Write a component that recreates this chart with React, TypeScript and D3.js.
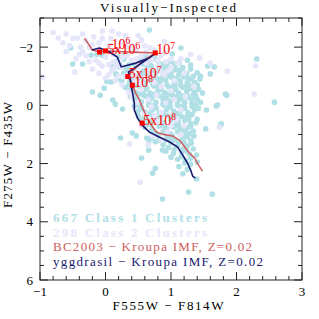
import React from 'react';
import * as d3 from 'd3';

// F555W - F814W (x) vs F275W - F435W (y)
const class1: [number, number][] = [
  // scattered
  [0.67, -2.59], [1.15, -1.97], [1.02, -1.76], [1.56, -1.35], [1.66, -1.32], [1.45, -1.01], [1.6, -1.08],
  [2.31, -1.59], [1.83, -0.39], [2.58, -0.11], [1.77, 0.64], [-0.53, -1.97], [-0.5, -1.42], [-0.35, -1.42],
  [-0.22, -1.72], [-0.13, -1.75], [-0.02, -0.59], [-0.2, -0.46], [-0.08, -0.35], [0.11, -0.18], [0.15, -0.04],
  [0.26, 0.13], [0.23, 1.12], [0.41, 0.95], [0.47, 1.05], [0.63, 1.12], [0.66, 1.26], [0.55, 1.81],
  [0.66, 1.54], [1.54, 0.16], [1.71, -0.01], [1.53, 0.81], [1.76, 0.64], [1.85, -0.35], [0.87, 1.54],
  [0.76, 2.16], [1.21, 1.98], [1.31, 1.3], [1.39, 1.71], [0.87, 3.22], [1.27, 2.98], [1.63, 3.05],
  [1.39, 2.53], [0.72, 2.33], [1.69, 0.02], [0.02, -0.82], [0.09, -0.8], [0.17, -1.05],
  // core
  [-0.05, -1.72], [0.1, -1.85], [0.3, -1.78], [0.45, -1.9], [0.62, -1.7], [0.2, -1.66],
  [0.15, -1.5], [0.28, -1.58], [0.4, -1.45], [0.52, -1.55], [0.64, -1.48], [0.76, -1.6], [0.88, -1.42],
  [1.0, -1.52], [0.35, -1.38], [0.7, -1.36], [1.12, -1.45], [1.25, -1.55],
  [0.3, -1.68], [0.55, -1.62], [0.8, -1.52], [1.05, -1.42], [0.28, -1.3], [0.64, -1.3], [0.88, -1.26],
  [1.12, -1.2], [1.3, -1.38],
  [0.22, -1.4], [0.46, -1.36], [0.58, -1.42], [0.82, -1.32], [0.94, -1.38], [1.06, -1.34], [1.18, -1.3], [0.1, -1.38],
  [0.1, -1.2], [0.22, -1.3], [0.34, -1.22], [0.46, -1.28], [0.58, -1.18], [0.7, -1.26], [0.82, -1.2],
  [0.94, -1.3], [1.06, -1.22], [1.18, -1.15], [0.28, -1.1], [0.52, -1.08], [0.76, -1.1], [1.0, -1.08],
  [1.3, -1.25], [1.4, -1.12], [0.88, -1.02], [0.64, -1.04],
  [0.16, -1.08], [0.4, -1.12], [0.7, -1.14], [0.94, -1.12], [1.12, -1.05], [1.24, -1.08], [1.34, -1.0], [0.58, -1.0],
  [0.34, -0.98], [0.58, -0.92], [0.8, -0.9], [1.02, -0.96], [1.26, -0.92], [1.4, -0.7],
  [0.2, -0.92], [0.31, -1.0], [0.42, -0.9], [0.53, -0.98], [0.64, -0.88], [0.75, -0.96], [0.86, -0.9],
  [0.97, -1.0], [1.08, -0.92], [1.2, -0.98], [1.32, -0.9], [0.37, -0.8], [0.6, -0.78], [0.83, -0.8],
  [1.05, -0.78], [1.25, -0.8], [0.72, -0.72], [0.94, -0.7], [1.15, -0.68], [0.48, -0.7],
  [0.25, -0.82], [0.48, -0.85], [0.7, -0.84], [0.92, -0.86], [1.14, -0.84], [1.36, -0.78], [1.44, -0.9],
  [0.36, -0.72], [0.58, -0.68], [0.8, -0.66], [1.02, -0.62], [1.24, -0.68],
  [0.4, -0.66], [0.62, -0.62], [0.84, -0.64], [1.06, -0.7], [1.3, -0.66], [1.48, -0.42],
  [0.3, -0.62], [0.41, -0.55], [0.52, -0.65], [0.63, -0.58], [0.74, -0.66], [0.85, -0.56], [0.96, -0.64],
  [1.07, -0.55], [1.18, -0.62], [1.3, -0.57], [0.46, -0.45], [0.68, -0.42], [0.9, -0.44], [1.12, -0.42],
  [1.36, -0.45], [0.57, -0.36], [0.79, -0.34], [1.01, -0.36], [1.24, -0.38],
  [0.36, -0.52], [0.58, -0.48], [0.8, -0.5], [1.02, -0.46], [1.24, -0.5], [1.42, -0.55], [0.5, -0.4],
  [0.74, -0.38], [0.96, -0.4], [1.18, -0.32], [1.38, -0.32],
  [0.44, -0.36], [0.66, -0.3], [0.88, -0.28], [1.1, -0.3], [1.34, -0.36], [1.45, -0.1],
  [0.38, -0.3], [0.49, -0.22], [0.6, -0.32], [0.71, -0.25], [0.82, -0.33], [0.93, -0.24], [1.04, -0.3],
  [1.15, -0.22], [1.26, -0.28], [1.4, -0.2], [0.55, -0.12], [0.77, -0.1], [0.99, -0.14], [1.21, -0.1],
  [0.66, -0.05], [0.88, -0.06], [1.1, -0.04], [1.32, -0.08],
  [0.44, -0.18], [0.66, -0.16], [0.88, -0.18], [1.1, -0.16], [1.32, -0.18], [0.5, -0.02], [0.72, 0.04],
  [0.94, 0.02], [1.16, 0.06], [1.38, -0.02],
  [0.54, 0.04], [0.76, -0.06], [0.98, -0.04], [1.2, -0.02], [1.42, 0.1],
  [0.44, 0.02], [0.55, 0.1], [0.66, 0.0], [0.77, 0.08], [0.88, -0.02], [0.99, 0.06], [1.1, 0.0],
  [1.21, 0.1], [1.32, 0.04], [0.6, 0.22], [0.82, 0.24], [1.04, 0.2], [1.26, 0.25], [0.71, 0.16],
  [0.93, 0.15], [1.15, 0.18], [1.36, 0.16],
  [0.5, 0.2], [0.66, 0.3], [0.88, 0.3], [1.1, 0.3], [1.32, 0.32], [0.56, 0.5], [0.78, 0.46], [1.0, 0.4],
  [1.22, 0.42], [1.4, 0.48],
  [0.6, 0.36], [0.84, 0.34], [1.06, 0.26], [1.26, 0.36], [1.38, 0.6],
  [0.5, 0.38], [0.61, 0.45], [0.72, 0.36], [0.83, 0.44], [0.94, 0.35], [1.05, 0.43], [1.16, 0.38],
  [1.27, 0.46], [0.67, 0.56], [0.89, 0.6], [1.11, 0.56], [1.3, 0.62], [0.78, 0.52], [1.0, 0.5], [1.21, 0.52],
  [0.64, 0.64], [0.86, 0.66], [1.08, 0.66], [1.3, 0.72], [0.7, 0.9], [0.92, 0.96], [1.14, 1.0], [1.28, 0.98],
  [0.7, 0.66], [0.9, 0.72], [1.12, 0.72], [1.22, 0.86],
  [0.6, 0.75], [0.71, 0.82], [0.82, 0.72], [0.93, 0.8], [1.04, 0.74], [1.15, 0.83], [1.26, 0.76],
  [0.77, 0.95], [0.99, 0.98], [1.2, 0.96], [0.88, 0.9], [1.1, 0.9], [1.34, 0.88],
  [0.8, 1.04], [1.02, 1.05], [1.24, 1.08], [0.9, 1.22], [1.12, 1.26],
  [0.7, 1.12], [0.82, 1.2], [0.94, 1.1], [1.06, 1.18], [1.18, 1.12], [1.3, 1.2], [0.88, 1.35],
  [1.1, 1.38], [1.25, 1.4], [1.0, 1.28], [1.35, 1.05],
  [0.76, 1.25], [0.98, 1.18], [1.2, 1.28], [0.96, 1.45], [1.18, 1.5], [1.34, 1.5], [1.0, 1.78], [1.3, 1.82],
  [1.4, 1.95], [1.05, 1.52], [1.24, 1.58], [1.16, 1.76], [1.3, 2.02],
  [0.92, 1.58], [1.04, 1.65], [1.16, 1.6], [1.28, 1.68], [1.1, 1.85], [1.22, 1.9],
  [1.12, 2.1], [1.25, 2.2], [1.18, 2.35],
];

const class2: [number, number][] = [
  [-0.72, -2.31], [-0.43, -2.31], [-0.38, -2.0], [-0.96, -0.97], [-0.47, -1.14], [1.86, -1.18],
  [2.29, -1.35], [2.27, -0.39], [1.74, 0.75], [0.53, 2.64], [0.37, 1.33], [1.44, -1.63], [1.6, -1.45],
  [-0.6, -2.45], [-0.3, -2.2], [-0.18, -2.35], [-0.05, -2.55], [0.08, -2.3], [0.2, -2.45], [0.35, -2.2],
  [0.5, -2.4], [-0.55, -2.05], [-0.25, -2.0], [-0.1, -1.95], [0.05, -2.05], [0.18, -1.9], [0.32, -2.0],
  [0.47, -1.85], [0.6, -2.05], [0.75, -1.9], [-0.45, -1.6], [-0.3, -1.7], [-0.15, -1.55], [0.0, -1.65],
  [0.12, -1.5], [0.26, -1.65], [0.4, -1.55], [0.55, -1.7], [0.7, -1.55], [0.85, -1.7], [1.0, -1.6],
  [-0.2, -1.25], [-0.05, -1.35], [0.1, -1.2], [0.24, -1.3], [0.38, -1.15], [0.5, -1.32], [0.65, -1.2],
  [0.8, -1.35], [0.95, -1.18], [1.1, -1.45], [0.0, -0.95], [0.15, -0.85], [0.3, -1.0], [0.45, -0.82],
  [0.6, -0.95], [0.75, -0.78], [0.9, -1.05], [1.05, -0.85], [1.2, -1.1], [-0.1, -2.15], [0.25, -2.18],
  [-0.35, -1.85], [0.12, -1.75], [0.62, -1.82], [0.92, -1.5], [0.35, -0.45], [0.55, -0.55], [0.78, -0.35],
  [1.0, -0.5], [1.22, -0.3], [0.48, -0.1], [0.7, 0.05], [0.92, -0.08], [1.15, 0.15], [0.6, 0.3],
  [0.85, 0.25], [1.08, 0.5], [0.55, 0.7], [0.8, 0.55], [0.95, 0.9], [0.72, 1.05], [1.15, 1.0], [0.65, 1.35],
  [-0.65, -2.15], [-0.5, -2.3], [-0.35, -2.45], [-0.2, -2.1], [-0.05, -2.3], [0.1, -2.55], [0.3, -2.4],
  [0.42, -2.05], [0.55, -2.25], [0.68, -1.98], [-0.4, -1.75], [-0.25, -1.5], [-0.1, -1.45], [0.05, -1.4],
  [0.2, -1.45], [0.33, -1.7], [0.48, -1.6], [0.62, -1.45], [0.8, -1.55], [0.9, -1.8], [-0.1, -1.1],
  [0.05, -1.05], [0.2, -1.0], [0.15, -1.3], [0.45, -1.0], [0.7, -1.05], [0.85, -1.15], [1.0, -1.3],
  [1.15, -1.6], [0.25, -0.7], [0.55, -0.75], [0.85, -0.65], [0.4, -0.3], [0.65, -0.2], [1.05, -0.2],
  [0.75, 0.35], [1.0, 0.7], [0.85, 1.2], [1.2, 0.7], [-0.8, -2.5], [-0.6, -1.85], [0.9, -2.2], [1.3, -1.75],
  [1.35, -0.65],
];

const bc2003: [number, number][] = [
  [-0.32, -2.31], [-0.2, -1.9], [-0.09, -1.83], [0.02, -1.87], [0.37, -1.83], [0.76, -1.8], [0.55, -1.49],
  [0.34, -1.01], [0.41, -0.7], [0.46, -0.42], [0.52, -0.18], [0.56, 0.06], [0.63, 0.4], [0.7, 0.68],
  [0.78, 0.92], [0.87, 0.99], [1.02, 1.05], [1.13, 1.19], [1.21, 1.43], [1.28, 1.64], [1.36, 1.81],
  [1.4, 1.98], [1.44, 2.12], [1.48, 2.26],
];

const yggdrasil: [number, number][] = [
  [-0.21, -1.9], [-0.09, -1.97], [0.06, -1.83], [0.18, -1.66], [0.24, -1.32], [0.46, -1.45], [0.67, -1.63],
  [0.75, -1.76], [0.55, -1.45], [0.35, -1.14], [0.38, -0.87], [0.41, -0.46], [0.44, -0.08], [0.44, 0.16],
  [0.49, 0.44], [0.56, 0.68], [0.67, 0.92], [0.82, 1.09], [0.98, 1.26], [1.1, 1.43], [1.18, 1.71],
  [1.25, 1.98], [1.3, 2.22], [1.33, 2.43], [1.37, 2.5],
];

const ageMarks: { mant: string; exp: string; x: number; y: number }[] = [
  { mant: '10', exp: '6', x: -0.09, y: -1.83 },
  { mant: '5x10', exp: '6', x: 0.0, y: -1.87 },
  { mant: '10', exp: '7', x: 0.76, y: -1.8 },
  { mant: '5x10', exp: '7', x: 0.34, y: -0.99 },
  { mant: '10', exp: '8', x: 0.41, y: -0.69 },
  { mant: '5x10', exp: '8', x: 0.56, y: 0.61 },
];
// label offsets from marker, px
const labelOffsets = [[12, -3], [2, 3], [1, 1], [1, 1], [2, 2], [1, 2]];

const xTicks = [-1, 0, 1, 2, 3];
const yTicks = [-2, 0, 2, 4, 6];

const legendItems = [
  { text: '667 Class 1 Clusters', color: '#b0e0e6', len: 154 },
  { text: '298 Class 2 Clusters', color: '#e6e6fa', len: 154 },
  { text: 'BC2003 \u2212 Kroupa IMF, Z=0.02', color: '#cd5c5c', len: 199 },
  { text: 'yggdrasil \u2212 Kroupa IMF, Z=0.02', color: '#191970', len: 210 },
];

const W = 319, H = 319;
const L = 40, R = 302, T = 18, B = 280;
const font = '"Liberation Serif", "DejaVu Serif", serif';

export default function App() {
  const x = d3.scaleLinear().domain([-1, 3]).range([L, R]);
  const y = d3.scaleLinear().domain([-3, 6]).range([T, B]);
  const line = d3.line<[number, number]>().x(d => x(d[0])).y(d => y(d[1]));

  const xMinor = d3.range(-1, 3.001, 0.2);
  const yMinor = d3.range(-3, 6.001, 0.5);

  return (
    <svg width={W} height={H} style={{ position: 'absolute', left: 0, top: 0, background: '#fff' }}>
      <text x={168} y={12} fontFamily={font} fontSize={13} textAnchor="middle" textLength={136}>
        Visually{'\u2212'}Inspected
      </text>

      <g>
        {class1.map((d, i) => (
          <circle key={'a' + i} cx={x(d[0])} cy={y(d[1])} r={2.8} fill="#b0e0e6" />
        ))}
        {class2.map((d, i) => (
          <circle key={'b' + i} cx={x(d[0])} cy={y(d[1])} r={2.8} fill="#e6e6fa" />
        ))}
      </g>

      <path d={line(bc2003) || ''} fill="none" stroke="#cd5c5c" strokeWidth={1.5} />
      <path d={line(yggdrasil) || ''} fill="none" stroke="#191970" strokeWidth={1.6} />

      {ageMarks.map((m, i) => (
        <rect key={'m' + i} x={x(m.x) - 2.5} y={y(m.y) - 2.5} width={5} height={5} fill="#ff0000" />
      ))}
      {ageMarks.map((m, i) => (
        <text key={'t' + i} x={x(m.x) + labelOffsets[i][0]} y={y(m.y) + labelOffsets[i][1]}
          fontFamily={font} fontSize={14} fill="#ff0000">
          {m.mant}<tspan dy={-5} fontSize={9.5}>{m.exp}</tspan>
        </text>
      ))}

      {legendItems.map((it, i) => (
        <text key={'l' + i} x={53} y={222 + i * 14.5} fontFamily={font} fontSize={13}
          fill={it.color} textLength={it.len} fontWeight={i < 2 ? 'bold' : 'normal'}>
          {it.text}
        </text>
      ))}

      {/* frame */}
      <rect x={L} y={T} width={R - L} height={B - T} fill="none" stroke="#222" strokeWidth={1} />
      {xMinor.map((v, i) => {
        const major = Math.abs(v - Math.round(v)) < 1e-6;
        const len = major ? 8 : 4;
        return (
          <g key={'xt' + i} stroke="#222" strokeWidth={1}>
            <line x1={x(v)} x2={x(v)} y1={B} y2={B - len} />
            <line x1={x(v)} x2={x(v)} y1={T} y2={T + len} />
          </g>
        );
      })}
      {yMinor.map((v, i) => {
        const major = Math.abs(v / 2 - Math.round(v / 2)) < 1e-6;
        const len = major ? 8 : 4;
        return (
          <g key={'yt' + i} stroke="#222" strokeWidth={1}>
            <line x1={L} x2={L + len} y1={y(v)} y2={y(v)} />
            <line x1={R} x2={R - len} y1={y(v)} y2={y(v)} />
          </g>
        );
      })}
      {xTicks.map(v => (
        <text key={'xl' + v} x={x(v)} y={296} fontFamily={font} fontSize={13} textAnchor="middle">
          {v < 0 ? '\u2212' + Math.abs(v) : v}
        </text>
      ))}
      {yTicks.map(v => (
        <text key={'yl' + v} x={33} y={y(v) + 4.5} fontFamily={font} fontSize={13} textAnchor="end">
          {v < 0 ? '\u2212' + Math.abs(v) : v}
        </text>
      ))}
      <text x={168} y={310} fontFamily={font} fontSize={13} textAnchor="middle" textLength={111}>
        F555W {'\u2212'} F814W
      </text>
      <text transform="translate(12,155) rotate(-90)" fontFamily={font} fontSize={13} textAnchor="middle"
        textLength={106}>
        F275W {'\u2212'} F435W
      </text>
    </svg>
  );
}
